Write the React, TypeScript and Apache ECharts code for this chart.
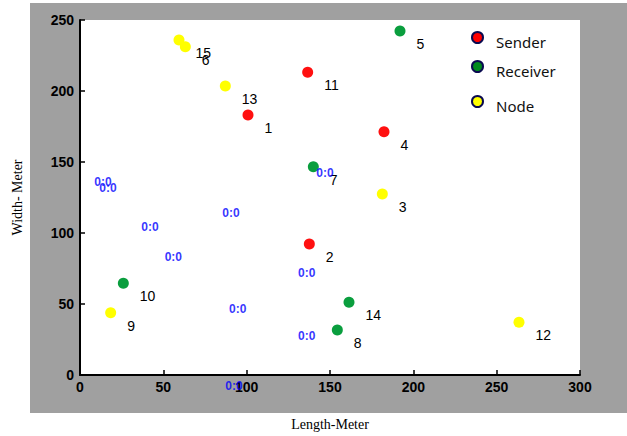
import React, { useEffect, useRef } from "react";
import * as echarts from "echarts";

const xTicks = [0, 50, 100, 150, 200, 250, 300];
const yTicks = [0, 50, 100, 150, 200, 250];

const senderNames = ["1", "2", "4", "11"];
const senderX = [100.8, 137.6, 182.4, 136.6];
const senderY = [183.1, 92.3, 171.3, 213.2];

const receiverNames = ["5", "7", "8", "10", "14"];
const receiverX = [192, 140, 154.4, 26, 161.4];
const receiverY = [242.3, 146.7, 31.7, 64.6, 51.2];

const nodeNames = ["3", "6", "9", "12", "13", "15"];
const nodeX = [181.4, 63.2, 18.4, 263.4, 87.2, 59.4];
const nodeY = [127.5, 231.2, 43.9, 37.1, 203.5, 235.9];

const zeroLabelX = [13.8, 16.8, 90.6, 42, 56, 94.6, 92.4, 147, 136, 136];
const zeroLabelY = [135.9, 131.7, 114.1, 104, 82.9, 46.5, -7.7, 142.3, 71.6, 27.5];
const zeroLabelText = "0:0";

const seriesNames = ["Sender", "Receiver", "Node"];
const seriesColors = ["#ff1010", "#0a9e3e", "#ffff00"];
const legendColors = ["#ff0000", "#008a1e", "#ffff00"];
const legendTops = [26, 55, 90];

function pts(xs: number[], ys: number[], names: string[]) {
  return xs.map((x, i) => ({ value: [x, ys[i]], name: names[i] }));
}

export default function App() {
  const ref = useRef<HTMLDivElement>(null);
  useEffect(() => {
    if (!ref.current) return;
    const chart = echarts.init(ref.current, null, { renderer: "svg" });
    const groups = [
      pts(senderX, senderY, senderNames),
      pts(receiverX, receiverY, receiverNames),
      pts(nodeX, nodeY, nodeNames),
    ];
    const pointSeries = groups.map((data, i) => ({
      type: "scatter",
      name: seriesNames[i],
      data,
      symbol: "circle",
      symbolSize: 11,
      itemStyle: { color: seriesColors[i], opacity: 1 },
      label: {
        show: true,
        position: "right",
        distance: 11,
        offset: [0, 13],
        formatter: (p: any) => p.name,
        color: "#000",
        fontFamily: "Liberation Sans",
        fontSize: 14,
      },
      emphasis: { disabled: true },
      z: 3,
    }));
    const zeroSeries = {
      type: "scatter",
      name: "zero",
      clip: false,
      data: zeroLabelX.map((x, i) => [x, zeroLabelY[i]]),
      symbol: "circle",
      symbolSize: 0.1,
      itemStyle: { color: "rgba(0,0,0,0)" },
      label: {
        show: true,
        position: "inside",
        formatter: () => zeroLabelText,
        color: "#0000ff",
        fontFamily: "Liberation Sans",
        fontWeight: "bold",
        fontSize: 12,
      },
      emphasis: { disabled: true },
      z: 4,
    };
    const legends = seriesNames.map((n, i) => ({
      data: [
        {
          name: n,
          icon: "circle",
          itemStyle: { color: legendColors[i], borderColor: "#0a0a50", borderWidth: 2 },
        },
      ],
      left: 466,
      top: legendTops[i],
      itemWidth: 11,
      itemHeight: 13,
      selectedMode: false,
      formatter: "{t|{name}}",
      textStyle: {
        fontFamily: "Noto Sans",
        fontSize: 15,
        color: "#111",
        rich: {
          t: {
            fontFamily: "Noto Sans",
            fontSize: 15,
            color: "#111",
            padding: [8, 0, 0, 8],
          },
        },
      },
    }));
    const axisLabel = {
      color: "#000",
      fontFamily: "Liberation Sans",
      fontWeight: "bold" as const,
      fontSize: 14,
    };
    chart.setOption({
      animation: false,
      backgroundColor: "#fff",
      graphic: {
        elements: [
          {
            type: "rect",
            z: -10,
            shape: { x: 30, y: 3, width: 597, height: 410 },
            style: { fill: "#a0a0a0" },
            silent: true,
          },
        ],
      },
      grid: {
        left: 80,
        right: 47,
        top: 20,
        bottom: 61,
        show: true,
        backgroundColor: "#fff",
        borderWidth: 0,
        outerBoundsMode: "none",
        containLabel: false,
        z: 0,
      },
      legend: legends,
      xAxis: {
        type: "value",
        min: xTicks[0],
        max: xTicks[xTicks.length - 1],
        interval: 50,
        name: "Length-Meter",
        nameLocation: "middle",
        nameGap: 42,
        nameTextStyle: { fontFamily: "Liberation Serif", fontSize: 14, color: "#000" },
        axisLine: { lineStyle: { color: "#000", width: 2 } },
        axisTick: { inside: true, length: 5, lineStyle: { color: "#000", width: 1.5 } },
        axisLabel: { ...axisLabel, margin: 5 },
        splitLine: { show: false },
      },
      yAxis: {
        type: "value",
        min: yTicks[0],
        max: yTicks[yTicks.length - 1],
        interval: 50,
        name: "Width- Meter",
        nameLocation: "middle",
        nameGap: 56,
        nameTextStyle: { fontFamily: "Liberation Serif", fontSize: 14, color: "#000" },
        axisLine: { lineStyle: { color: "#000", width: 2 } },
        axisTick: { inside: true, length: 5, lineStyle: { color: "#000", width: 1.5 } },
        axisLabel: { ...axisLabel, margin: 6 },
        splitLine: { show: false },
      },
      series: [...pointSeries, zeroSeries],
    });
    return () => chart.dispose();
  }, []);
  return (
    <div
      ref={ref}
      style={{ position: "fixed", left: 0, top: 0, width: 627, height: 436 }}
    />
  );
}
